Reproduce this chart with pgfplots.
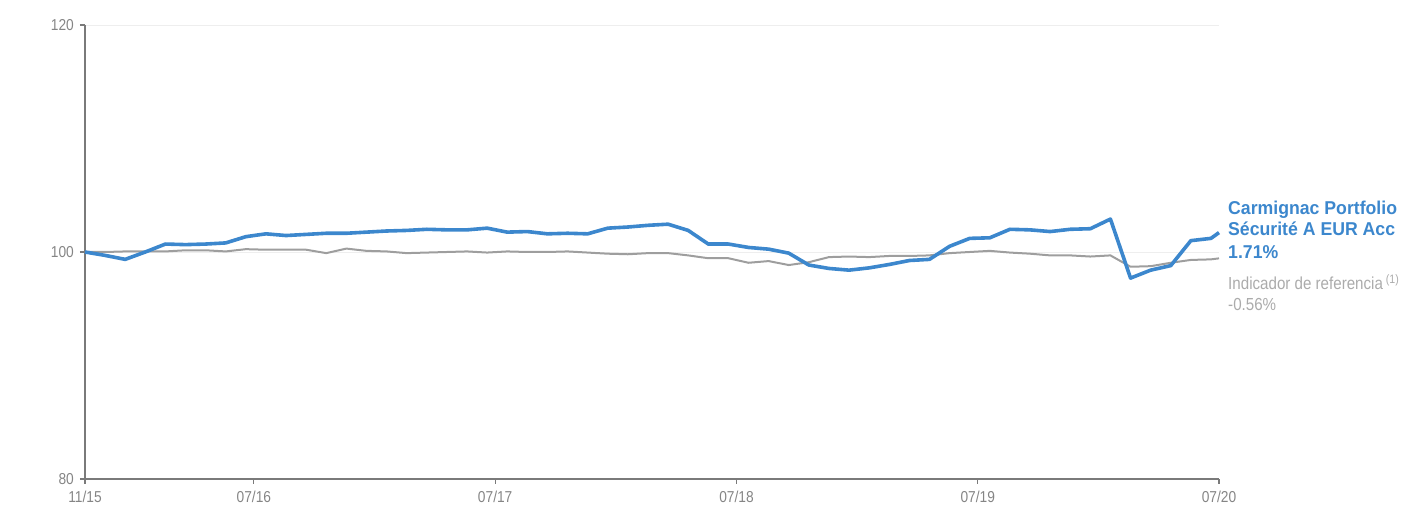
\documentclass[border=0pt]{standalone}
\usepackage{fontspec}
\setmainfont{Liberation Sans}[FakeStretch=0.87]
\newfontfamily\widefont{Liberation Sans}[FakeStretch=0.95]
\newfontfamily\plainfont{Liberation Sans}
\usepackage{pgfplots}
\pgfplotsset{compat=1.18}
\definecolor{fundblue}{HTML}{3C87CD}
\definecolor{benchgray}{HTML}{9E9E9E}
\definecolor{benchtext}{HTML}{ABABAB}
\definecolor{axisgray}{HTML}{7A7A7A}
\definecolor{tickgray}{HTML}{858585}
\definecolor{gridgray}{HTML}{EEEEEE}

\begin{document}
\begin{tikzpicture}
\begin{axis}[
    scale only axis, width=1134pt, height=454pt,
    xmin=0, xmax=56.4, ymin=80, ymax=120,
    clip=false,
    axis lines*=left,
    axis line style={draw=axisgray, line width=1.3pt},
    ytick={80,100,120},
    xtick={0,8.4,20.4,32.4,44.4,56.4},
    xticklabels={11/15,07/16,07/17,07/18,07/19,07/20},
    ymajorgrids, grid style={draw=gridgray, line width=0.9pt},
    tick align=outside, major tick length=5pt,
    tick style={draw=axisgray, line width=1.2pt},
    /pgf/number format/assume math mode=true,
    ticklabel style={font=\fontsize{15.8}{17}\selectfont, text=tickgray},
    yticklabel style={anchor=east, inner sep=0pt, xshift=-6pt},
    xticklabel style={anchor=north, inner sep=0pt, yshift=-7pt},
]
\coordinate (O) at (rel axis cs:0,0);

% indicador de referencia
\addplot[benchgray, line width=2pt, line join=round] table {
x y
0 100.0
1 100.0
2 100.05
3 100.05
4 100.05
5 100.15
6 100.15
7 100.05
8 100.25
9 100.2
10 100.2
11 100.2
12 99.9
13 100.3
14 100.1
15 100.05
16 99.9
17 99.95
18 100.0
19 100.05
20 99.95
21 100.05
22 100.0
23 100.0
24 100.05
25 99.95
26 99.85
27 99.8
28 99.9
29 99.9
30 99.7
31 99.45
32 99.45
33 99.05
34 99.2
35 98.85
36 99.1
37 99.55
38 99.6
39 99.55
40 99.65
41 99.65
42 99.7
43 99.9
44 100.0
45 100.1
46 99.95
47 99.85
48 99.7
49 99.7
50 99.6
51 99.7
52 98.7
53 98.75
54 99.05
55 99.3
56 99.35
56.4 99.44
};

% fondo
\addplot[fundblue, line width=3.6pt, line join=round] table {
x y
0 100.0
1 99.7
2 99.35
3 100.0
4 100.7
5 100.65
6 100.7
7 100.8
8 101.35
9 101.6
10 101.45
11 101.55
12 101.65
13 101.65
14 101.75
15 101.85
16 101.9
17 102.0
18 101.95
19 101.95
20 102.1
21 101.75
22 101.8
23 101.6
24 101.65
25 101.6
26 102.1
27 102.2
28 102.35
29 102.45
30 101.9
31 100.7
32 100.7
33 100.4
34 100.25
35 99.9
36 98.85
37 98.55
38 98.4
39 98.6
40 98.9
41 99.25
42 99.35
43 100.5
44 101.2
45 101.25
46 102.0
47 101.95
48 101.8
49 102.0
50 102.05
51 102.9
52 97.7
53 98.4
54 98.8
55 101.0
56 101.2
56.4 101.71
};
\end{axis}

\node[rotate=90, font=\plainfont\fontsize{18.9}{20}\selectfont, shift={(-64pt,227pt)}] at (O) {Base 100};

\begin{scope}[every node/.style={anchor=base west, inner sep=0pt}]
\node[font=\widefont\bfseries\fontsize{18.6}{20}\selectfont, text=fundblue, shift={(1143pt,264.7pt)}] at (O) {Carmignac Portfolio};
\node[font=\widefont\bfseries\fontsize{18.6}{20}\selectfont, text=fundblue, shift={(1143pt,243.3pt)}] at (O) {Sécurité A EUR Acc};
\node[font=\widefont\bfseries\fontsize{18.6}{20}\selectfont, text=fundblue, shift={(1143pt,220pt)}] at (O) {1.71\%};
\node[font=\fontsize{17.4}{19}\selectfont, text=benchtext, shift={(1143pt,189pt)}] at (O) {Indicador de referencia\,\textsuperscript{(1)}};
\node[font=\fontsize{17.4}{19}\selectfont, text=benchtext, shift={(1143pt,168.3pt)}] at (O) {-0.56\%};
\end{scope}

\pgfresetboundingbox
\path (O) ++(-85pt,-26pt) rectangle ++(1401pt,505pt);
\end{tikzpicture}
\end{document}
